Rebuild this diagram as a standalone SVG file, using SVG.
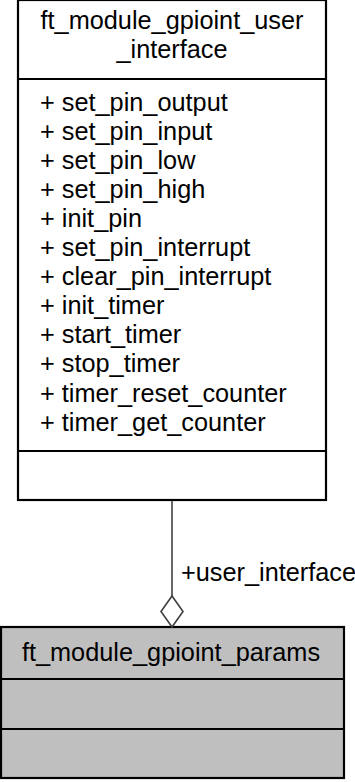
<svg xmlns="http://www.w3.org/2000/svg" width="355" height="782" viewBox="0 0 355 782">
<style>
text{font-family:"Liberation Sans",Arial,sans-serif;font-size:25.3px;fill:#000}
.box{stroke:#000;stroke-width:2.2}
.sep{stroke:#000;stroke-width:2.2;fill:none}
.edge{stroke:#404040;stroke-width:1.6;fill:none}
</style>
<rect width="355" height="782" fill="#fff"/>
<g id="node_user_interface">
<rect class="box" x="18" y="0" width="308" height="500" fill="#fff"/>
<line class="sep" x1="18" y1="79" x2="326" y2="79"/>
<line class="sep" x1="18" y1="451" x2="326" y2="451"/>
<text x="172" y="29" text-anchor="middle">ft_module_gpioint_user</text>
<text x="172" y="58" text-anchor="middle">_interface</text>
<text x="40" y="110.5">+ set_pin_output</text>
<text x="40" y="139.6">+ set_pin_input</text>
<text x="40" y="168.7">+ set_pin_low</text>
<text x="40" y="197.8">+ set_pin_high</text>
<text x="40" y="226.9">+ init_pin</text>
<text x="40" y="256">+ set_pin_interrupt</text>
<text x="40" y="285.1">+ clear_pin_interrupt</text>
<text x="40" y="314.2">+ init_timer</text>
<text x="40" y="343.3">+ start_timer</text>
<text x="40" y="372.4">+ stop_timer</text>
<text x="40" y="401.5">+ timer_reset_counter</text>
<text x="40" y="430.6">+ timer_get_counter</text>
</g>
<g id="node_params">
<rect class="box" x="1" y="627" width="343" height="151" fill="#bfbfbf"/>
<line class="sep" x1="1" y1="679" x2="344" y2="679"/>
<line class="sep" x1="1" y1="729" x2="344" y2="729"/>
<text x="171" y="660.5" text-anchor="middle">ft_module_gpioint_params</text>
</g>
<g id="connectors">
<path class="edge" d="M172,501 L172,596"/>
<polygon class="edge" points="172,627 161,611.5 172,596 183,611.5" fill="#fff"/>
<text x="181" y="581">+user_interface</text>
</g>
</svg>
